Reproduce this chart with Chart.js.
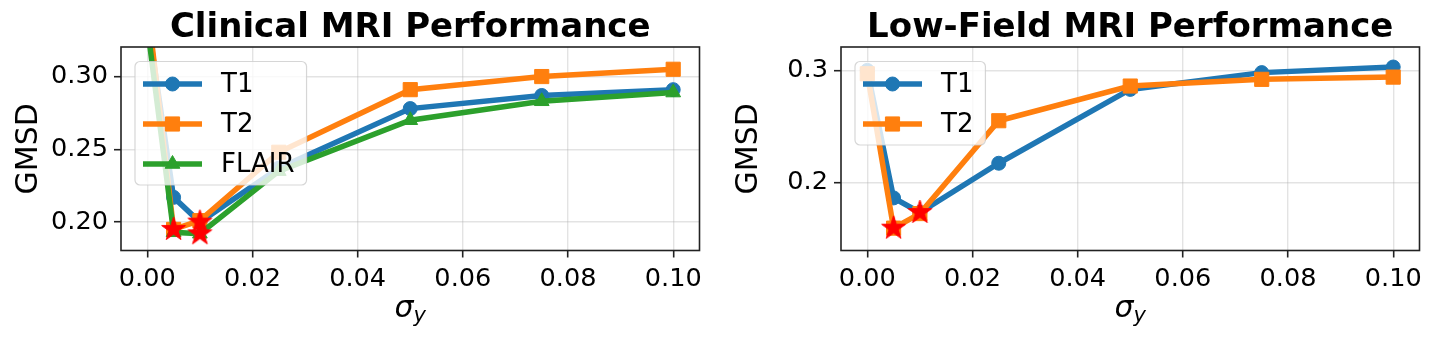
<!DOCTYPE html>
<html>
<head>
<meta charset="utf-8">
<script src="https://cdn.jsdelivr.net/npm/chart.js@4.4.1/dist/chart.umd.min.js"></script>
<style>
  html, body { margin: 0; padding: 0; background: #fff; overflow: hidden; }
  #wrap { position: relative; width: 1435px; height: 338px; }
  canvas { position: absolute; top: 0; }
</style>
</head>
<body>
<div id="wrap">
  <canvas id="clinical" width="717" height="338" style="left:0"></canvas>
  <canvas id="lowfield" width="715" height="338" style="left:720px"></canvas>
</div>
<script>
// noise levels (x) and tick values
const sigmas = [0, 0.005, 0.01, 0.025, 0.05, 0.075, 0.1];
const xTicks = [0, 0.02, 0.04, 0.06, 0.08, 0.1];

// Clinical MRI, GMSD per sigma
const clinicalT1 = [0.340, 0.217, 0.200, 0.237, 0.278, 0.287, 0.291];
const clinicalT2 = [0.350, 0.195, 0.201, 0.248, 0.291, 0.300, 0.305];
const clinicalFlair = [0.335, 0.193, 0.192, 0.235, 0.270, 0.283, 0.289];
const clinicalYTicks = [0.20, 0.25, 0.30];

// Low-field MRI, GMSD per sigma
const lowFieldT1 = [0.300, 0.186, 0.173, 0.217, 0.283, 0.298, 0.303];
const lowFieldT2 = [0.297, 0.159, 0.172, 0.255, 0.286, 0.292, 0.294];
const lowFieldYTicks = [0.2, 0.3];

const FONT = "'DejaVu Sans'";
const GRID = "rgba(176,176,176,0.35)";
const BLUE = "#1f77b4", ORANGE = "#ff7f0e", GREEN = "#2ca02c";

// filled 5 point star, used as point image for the minima
function makeStar(R) {
  const c = document.createElement("canvas");
  const s = Math.ceil(R * 2 + 4);
  c.width = s; c.height = s;
  const g = c.getContext("2d");
  g.translate(s / 2, s / 2);
  g.beginPath();
  for (let i = 0; i < 10; i++) {
    const r = i % 2 ? R * 0.382 : R;
    const a = -Math.PI / 2 + i * Math.PI / 5;
    g.lineTo(r * Math.cos(a), r * Math.sin(a));
  }
  g.closePath();
  g.fillStyle = "#ff0000";
  g.fill();
  g.lineWidth = 1;
  g.strokeStyle = "#ff0000";
  g.stroke();
  return c;
}
const starImg = makeStar(12.5);

const decor = {
  id: "decor",
  afterDatasetsDraw(chart) {
    const { ctx, chartArea: ca } = chart;
    ctx.save();
    ctx.strokeStyle = "#222";
    ctx.lineWidth = 1.6;
    ctx.strokeRect(ca.left, ca.top, ca.right - ca.left, ca.bottom - ca.top);
    ctx.restore();
  },
  afterDraw(chart, args, o) {
    const { ctx, chartArea: ca } = chart;
    const cx = (ca.left + ca.right) / 2;
    ctx.save();
    ctx.fillStyle = "#000";
    // title
    ctx.font = "bold 34px " + FONT;
    ctx.textAlign = "center";
    ctx.textBaseline = "alphabetic";
    ctx.fillText(o.title, cx, 37);
    // y label
    ctx.save();
    ctx.translate(36.5, (ca.top + ca.bottom) / 2);
    ctx.rotate(-Math.PI / 2);
    ctx.font = "30px " + FONT;
    ctx.fillText("GMSD", 0, 0);
    ctx.restore();
    // x label: sigma_y
    ctx.textAlign = "left";
    ctx.font = "italic 30px " + FONT;
    const ws = ctx.measureText("σ").width;
    ctx.font = "italic 21px " + FONT;
    const wy = ctx.measureText("y").width;
    const x0 = cx - (ws + wy) / 2;
    ctx.font = "italic 30px " + FONT;
    ctx.fillText("σ", x0, 317);
    ctx.font = "italic 21px " + FONT;
    ctx.fillText("y", x0 + ws, 322);

    // legend
    const items = o.series;
    ctx.font = "26px " + FONT;
    const tw = Math.max(...items.map(s => ctx.measureText(s.label).width));
    const bx = ca.left + 14, by = ca.top + 14.5;
    const bw = 86 + tw + 12, bh = 22.5 + (items.length - 1) * 40 + 21;
    ctx.fillStyle = "rgba(255,255,255,0.8)";
    ctx.strokeStyle = "rgba(204,204,204,0.8)";
    ctx.lineWidth = 1.2;
    ctx.beginPath();
    ctx.roundRect(bx, by, bw, bh, 5);
    ctx.fill();
    ctx.stroke();
    items.forEach((s, i) => {
      const y = by + 22.5 + i * 40;
      ctx.strokeStyle = s.color;
      ctx.fillStyle = s.color;
      ctx.lineWidth = 5.5;
      ctx.beginPath();
      ctx.moveTo(bx + 8, y);
      ctx.lineTo(bx + 67, y);
      ctx.stroke();
      ctx.lineWidth = 1;
      Chart.helpers.drawPoint(ctx, { pointStyle: s.marker, radius: s.radius, borderWidth: 1, rotation: 0 }, bx + 37.5, y);
      ctx.fillStyle = "#000";
      ctx.textBaseline = "middle";
      ctx.fillText(s.label, bx + 86, y + 1);
    });
    ctx.restore();
  }
};

function makeChart(id, title, series, yMin, yMax, yTicks, yDigits, canvasW) {
  const datasets = series.map((s, i) => ({
    label: s.label,
    data: sigmas.map((x, k) => ({ x: x, y: s.values[k] })),
    borderColor: s.color,
    backgroundColor: s.color,
    borderWidth: 5.5,
    pointStyle: s.marker,
    pointRadius: s.radius,
    pointHoverRadius: s.radius,
    pointBorderWidth: 1,
    pointBorderColor: s.color,
    clip: 0,
    order: series.length - i
  }));
  // star on each series minimum
  const mins = series.map(s => {
    const k = s.values.indexOf(Math.min(...s.values));
    return { x: sigmas[k], y: s.values[k] };
  });
  datasets.push({
    label: "min",
    data: mins,
    showLine: false,
    pointStyle: starImg,
    clip: 0,
    order: 0
  });

  new Chart(document.getElementById(id), {
    type: "line",
    data: { datasets: datasets },
    options: {
      responsive: false,
      animation: false,
      devicePixelRatio: 1,
      layout: { padding: { top: 47, right: canvasW - 699.5, bottom: 0, left: 0 } },
      plugins: {
        legend: { display: false },
        tooltip: { enabled: false },
        decor: { title: title, series: series }
      },
      scales: {
        x: {
          type: "linear",
          min: -0.005,
          max: 0.105,
          afterBuildTicks: s => { s.ticks = xTicks.map(v => ({ value: v })); },
          afterFit: s => { s.height = 87.5; },
          border: { display: false },
          grid: { color: GRID, lineWidth: 1.4, tickColor: "#222", tickLength: 7, tickWidth: 1.6 },
          ticks: {
            padding: 6, color: "#000", autoSkip: false, maxRotation: 0,
            font: { family: FONT, size: 25.6 },
            callback: v => v.toFixed(2)
          }
        },
        y: {
          type: "linear",
          min: yMin,
          max: yMax,
          afterBuildTicks: s => { s.ticks = yTicks.map(v => ({ value: v })); },
          afterFit: s => { s.width = 121; },
          border: { display: false },
          grid: { color: GRID, lineWidth: 1.4, tickColor: "#222", tickLength: 7, tickWidth: 1.6 },
          ticks: {
            padding: 6, color: "#000",
            font: { family: FONT, size: 25.6 },
            callback: v => v.toFixed(yDigits)
          }
        }
      }
    },
    plugins: [decor]
  });
}

makeChart("clinical", "Clinical MRI Performance", [
  { label: "T1", values: clinicalT1, color: BLUE, marker: "circle", radius: 7 },
  { label: "T2", values: clinicalT2, color: ORANGE, marker: "rect", radius: 10 },
  { label: "FLAIR", values: clinicalFlair, color: GREEN, marker: "triangle", radius: 8.5 }
], 0.1805, 0.3203, clinicalYTicks, 2, 717);

makeChart("lowfield", "Low-Field MRI Performance", [
  { label: "T1", values: lowFieldT1, color: BLUE, marker: "circle", radius: 7 },
  { label: "T2", values: lowFieldT2, color: ORANGE, marker: "rect", radius: 10 }
], 0.139, 0.3209, lowFieldYTicks, 1, 715);
</script>
</body>
</html>
